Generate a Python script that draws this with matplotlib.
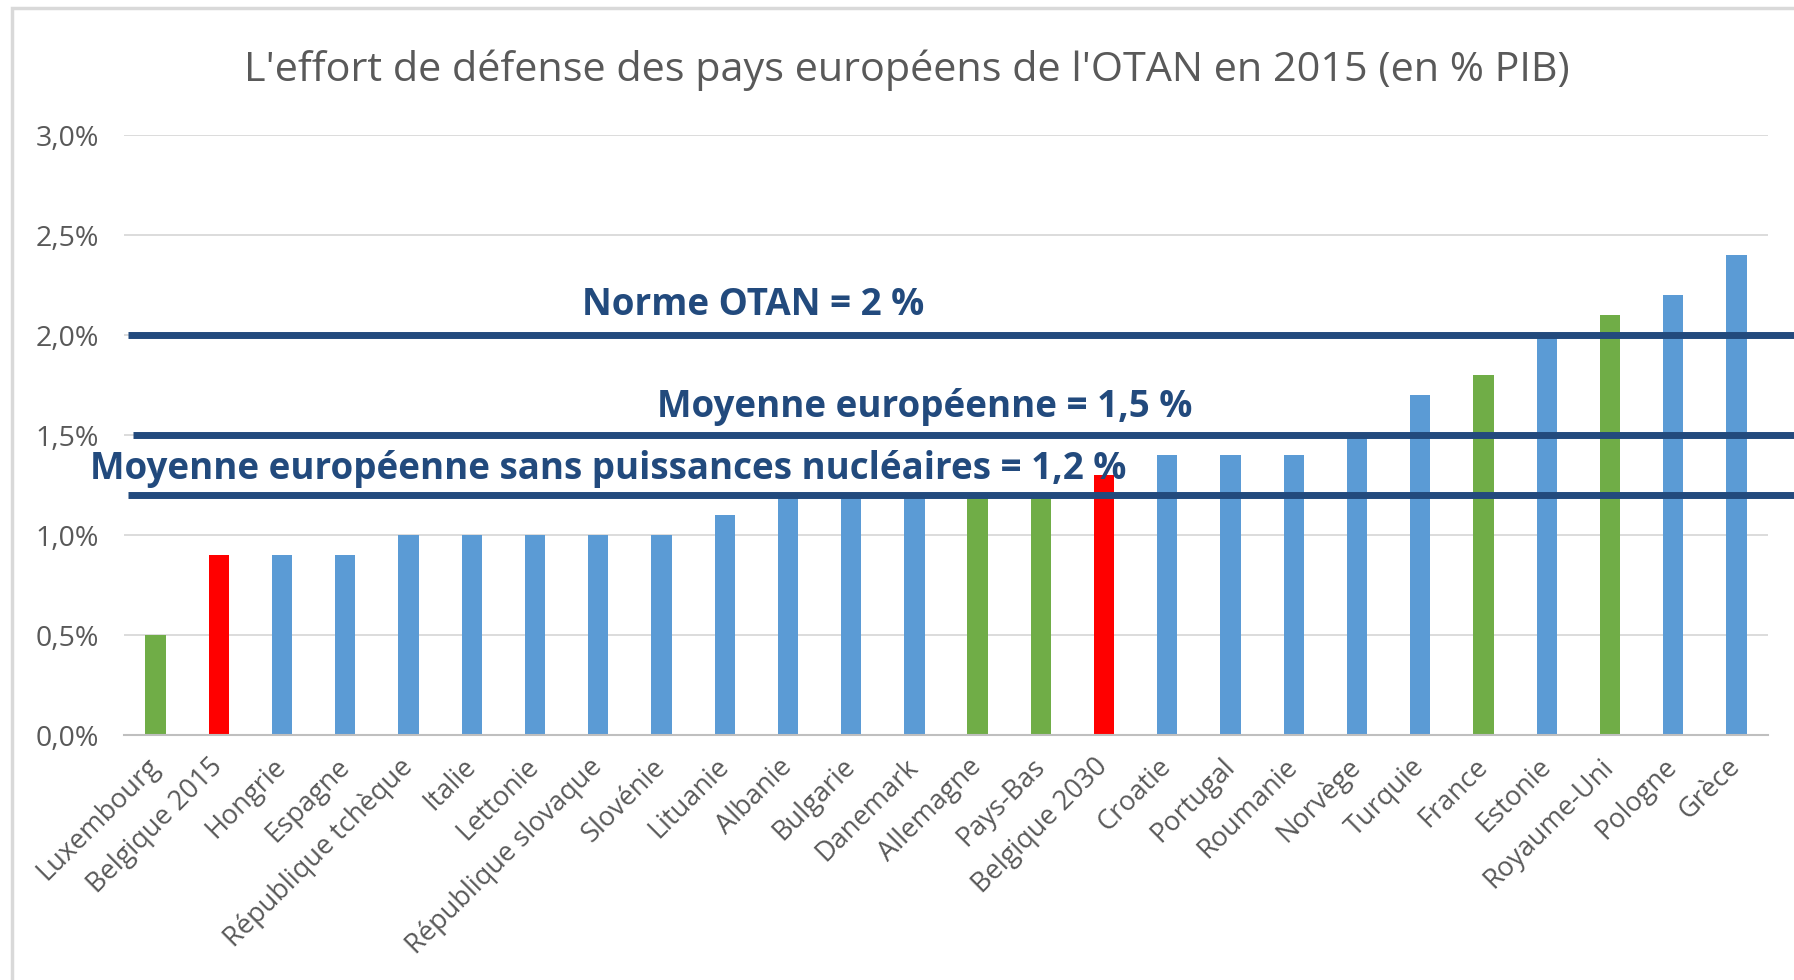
import numpy as np
import matplotlib.pyplot as plt
from matplotlib.patches import Rectangle

# données (% du PIB, 2015)
pays = ["Luxembourg", "Belgique 2015", "Hongrie", "Espagne", "République tchèque",
        "Italie", "Lettonie", "République slovaque", "Slovénie", "Lituanie",
        "Albanie", "Bulgarie", "Danemark", "Allemagne", "Pays-Bas", "Belgique 2030",
        "Croatie", "Portugal", "Roumanie", "Norvège", "Turquie", "France",
        "Estonie", "Royaume-Uni", "Pologne", "Grèce"]
effort = [0.5, 0.9, 0.9, 0.9, 1.0, 1.0, 1.0, 1.0, 1.0, 1.1,
          1.2, 1.2, 1.2, 1.2, 1.2, 1.3, 1.4, 1.4, 1.4, 1.5,
          1.7, 1.8, 2.0, 2.1, 2.2, 2.4]
groupe = ["v", "r", "b", "b", "b", "b", "b", "b", "b", "b",
          "b", "b", "b", "v", "v", "r", "b", "b", "b", "b",
          "b", "v", "b", "v", "b", "b"]

seuils = [2.0, 1.5, 1.2]
seuils_txt = ["Norme OTAN = 2 %", "Moyenne européenne = 1,5 %",
              "Moyenne européenne sans puissances nucléaires = 1,2 %"]
yticks = [0, 0.5, 1.0, 1.5, 2.0, 2.5, 3.0]
ytick_lbl = ["0,0%", "0,5%", "1,0%", "1,5%", "2,0%", "2,5%", "3,0%"]

couleurs = {"b": "#5B9BD5", "v": "#70AD47", "r": "#FF0000"}
bleu = "#224A7D"
gris = "#595959"

plt.rcParams['font.family'] = ['Open Sans', 'DejaVu Sans']

fig = plt.figure(figsize=(17.94, 9.8), dpi=100)
# cadre du graphique
fig.patches.append(Rectangle((12/1794, -0.1), 1.2, 1 - 8/980 + 0.1, transform=fig.transFigure,
                             fill=False, edgecolor="#D9D9D9", linewidth=2.5))

ax = fig.add_axes([124/1794, 0.25, 1644/1794, 0.6122])
x = np.arange(len(pays))
ax.bar(x, effort, width=0.32, color=[couleurs[g] for g in groupe], zorder=2)

ax.set_xlim(-0.5, len(pays) - 0.5)
ax.set_ylim(0, 3.0)
ax.set_yticks(yticks)
ax.set_yticklabels(ytick_lbl, fontsize=20.5, color=gris)
ax.grid(axis="y", color="#D9D9D9", linewidth=1.3, zorder=0)
ax.tick_params(length=0)
ax.tick_params(axis="y", pad=18)
ax.tick_params(axis="x", pad=20)
for s in ["top", "right", "left"]:
    ax.spines[s].set_visible(False)
ax.spines["bottom"].set_color("#BFBFBF")
ax.spines["bottom"].set_linewidth(1.5)

ax.set_xticks(x)
ax.set_xticklabels(pays, rotation=45, ha="right", va="center", rotation_mode="anchor",
                   fontsize=19.5, color=gris)

# lignes de référence
starts = [-0.44, -0.35, -0.44]
text_x = [9.45, 12.16, 7.15]
text_y = [2.15, 1.64, 1.33]
for v, s, t, tx, ty in zip(seuils, starts, seuils_txt, text_x, text_y):
    ax.plot([s, 26.0], [v, v], color=bleu, linewidth=5, clip_on=False, zorder=3,
            solid_capstyle="butt")
    ax.text(tx, ty, t, ha="center", va="center", fontsize=26.5, fontweight="bold",
            color=bleu, zorder=4)

fig.text(907/1794, 1 - 70/980, "L'effort de défense des pays européens de l'OTAN en 2015 (en % PIB)",
         ha="center", va="center", fontsize=29.8, color=gris)

fig.savefig("out.png", dpi=100)
